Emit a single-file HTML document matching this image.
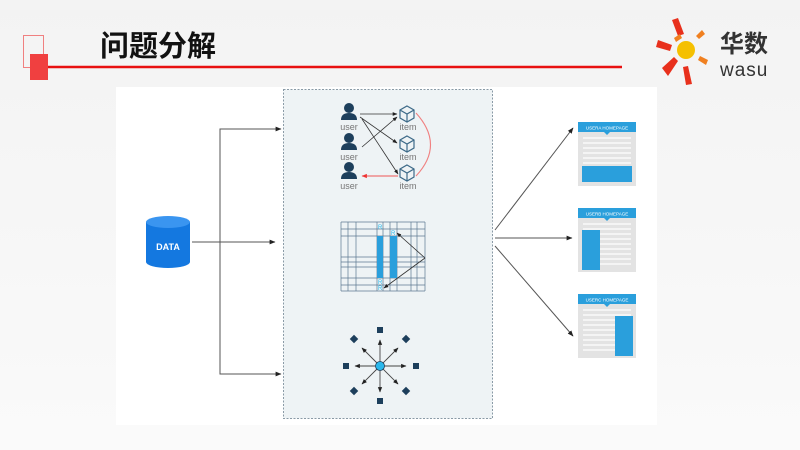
<!DOCTYPE html>
<html><head><meta charset="utf-8"><style>
body{margin:0;width:800px;height:450px;overflow:hidden;background:linear-gradient(#f3f3f3,#fafafa);font-family:"Liberation Sans","Noto Sans CJK SC",sans-serif;}
</style></head><body>
<svg width="800" height="450" viewBox="0 0 800 450" xmlns="http://www.w3.org/2000/svg" style="position:absolute;left:0;top:0">
<defs>
<marker id="a" viewBox="0 0 10 10" refX="9" refY="5" markerWidth="6" markerHeight="6" orient="auto"><path d="M0,1 L10,5 L0,9z" fill="#222"/></marker>
<marker id="r" viewBox="0 0 10 10" refX="9" refY="5" markerWidth="6" markerHeight="6" orient="auto"><path d="M0,1 L10,5 L0,9z" fill="#e33"/></marker>
<g id="u"><circle cx="0" cy="-6" r="5" fill="#1d3f5c"/><path d="M-8,6 Q-8,-1 0,-1 Q8,-1 8,6z" fill="#1d3f5c"/></g>
<g id="i" fill="none" stroke="#3d6a88" stroke-width="1.2"><path d="M0,-8 L7,-4 L7,4 L0,8 L-7,4 L-7,-4z M-7,-4 L0,0 L7,-4 M0,0 L0,8"/></g>
<g id="pg"><rect x="0" y="0" width="58" height="64" fill="#e3e3e3"/><rect x="0" y="0" width="58" height="10" fill="#2a9fdc"/><path d="M26,10 L29,13 L32,10z" fill="#2a9fdc"/>
<g stroke="#fff" stroke-width="1.2"><line x1="5" y1="16" x2="53" y2="16"/><line x1="5" y1="21" x2="53" y2="21"/><line x1="5" y1="26" x2="53" y2="26"/><line x1="5" y1="31" x2="53" y2="31"/><line x1="5" y1="36" x2="53" y2="36"/><line x1="5" y1="41" x2="53" y2="41"/><line x1="5" y1="46" x2="53" y2="46"/><line x1="5" y1="51" x2="53" y2="51"/><line x1="5" y1="56" x2="53" y2="56"/></g></g>
</defs>
<rect x="23.5" y="35.5" width="20" height="32" fill="none" stroke="#f08080" stroke-width="1"/>
<rect x="30" y="54" width="18" height="26" fill="#f04040"/>
<line x1="48" y1="67" x2="622" y2="67" stroke="#e81010" stroke-width="2.5"/>
<text x="100" y="56" font-size="29" font-weight="bold" fill="#111" font-family="Liberation Sans,Noto Sans CJK SC,sans-serif">问题分解</text>
<g transform="translate(686,50)">
<circle r="9" fill="#f5c000"/>
<g fill="#e8301c"><path d="M-28,-10 L-14,-5 L-16,1 L-30,-3z"/><path d="M-24,18 L-12,7 L-8,11 L-18,26z"/><path d="M-8,-32 L-2,-16 L-8,-14 L-14,-30z"/><path d="M2,16 L6,34 L0,35 L-3,17z"/></g>
<g fill="#f08020"><path d="M10,-14 L16,-20 L19,-16 L13,-11z"/><path d="M14,6 L22,10 L20,15 L12,10z"/><path d="M-12,-12 L-6,-16 L-4,-12 L-10,-8z"/></g>
</g>
<text x="720" y="52" font-size="24" font-weight="bold" fill="#333" font-family="Liberation Sans,Noto Sans CJK SC,sans-serif">华数</text>
<text x="720" y="76" font-size="19" fill="#333" letter-spacing="1">wasu</text>
<rect x="116" y="87" width="541" height="338" fill="#fff"/>
<rect x="283.5" y="89.5" width="209" height="329" fill="#eef3f5" stroke="#8a9aa6" stroke-dasharray="2,1.5"/>
<path d="M146,222 L146,262 A22,6 0 0 0 190,262 L190,222z" fill="#1478e0"/>
<ellipse cx="168" cy="222" rx="22" ry="6" fill="#3a95f0"/>
<text x="168" y="250" font-size="9" font-weight="bold" fill="#fff" text-anchor="middle">DATA</text>
<g stroke="#555" stroke-width="1" fill="none">
<line x1="192" y1="242" x2="275" y2="242" marker-end="url(#a)"/>
<polyline points="280,129 220,129 220,374 280,374"/>
<line x1="220" y1="129" x2="281" y2="129" marker-end="url(#a)"/>
<line x1="220" y1="374" x2="281" y2="374" marker-end="url(#a)"/>
<line x1="495" y1="230" x2="573" y2="128" marker-end="url(#a)"/>
<line x1="495" y1="238" x2="572" y2="238" marker-end="url(#a)"/>
<line x1="495" y1="246" x2="573" y2="336" marker-end="url(#a)"/>
</g>
<use href="#u" x="349" y="114"/><use href="#u" x="349" y="144"/><use href="#u" x="349" y="173"/>
<g font-size="9" fill="#777" text-anchor="middle"><text x="349" y="130">user</text><text x="349" y="160">user</text><text x="349" y="189">user</text>
<text x="408" y="130">item</text><text x="408" y="160">item</text><text x="408" y="189">item</text></g>
<use href="#i" x="407" y="114"/><use href="#i" x="407" y="144"/><use href="#i" x="407" y="173"/>
<g stroke="#333" stroke-width="0.8" fill="none">
<line x1="360" y1="114" x2="397" y2="114" marker-end="url(#a)"/>
<line x1="360" y1="117" x2="397" y2="143" marker-end="url(#a)"/>
<line x1="362" y1="119" x2="398" y2="174" marker-end="url(#a)"/>
<line x1="362" y1="147" x2="397" y2="117" marker-end="url(#a)"/>
</g>
<line x1="398" y1="176" x2="362" y2="176" stroke="#e55" stroke-width="0.9" marker-end="url(#r)"/>
<path d="M416,113 Q445,145 416,176" stroke="#f08080" fill="none" stroke-width="1.1"/>
<g stroke="#5c7890" stroke-width="0.7">
<line x1="341" y1="222" x2="425" y2="222"/><line x1="341" y1="229" x2="425" y2="229"/><line x1="341" y1="236" x2="425" y2="236"/><line x1="341" y1="257" x2="425" y2="257"/><line x1="341" y1="262" x2="425" y2="262"/><line x1="341" y1="267" x2="425" y2="267"/><line x1="341" y1="278" x2="425" y2="278"/><line x1="341" y1="285" x2="425" y2="285"/><line x1="341" y1="291" x2="425" y2="291"/>
<line x1="341" y1="222" x2="341" y2="291"/><line x1="348" y1="222" x2="348" y2="291"/><line x1="356" y1="222" x2="356" y2="291"/><line x1="377" y1="222" x2="377" y2="291"/><line x1="383" y1="222" x2="383" y2="291"/><line x1="390" y1="222" x2="390" y2="291"/><line x1="397" y1="222" x2="397" y2="291"/><line x1="411" y1="222" x2="411" y2="291"/><line x1="417" y1="222" x2="417" y2="291"/><line x1="425" y1="222" x2="425" y2="291"/>
</g>
<rect x="377" y="236" width="6" height="42" fill="#2a9fdc"/><rect x="390" y="236" width="7" height="42" fill="#2a9fdc"/>
<g font-size="6" fill="#2ab8ec"><text x="378" y="229">R</text><text x="391" y="235">R</text><text x="378" y="284">R</text><text x="378" y="290">R</text></g>
<g stroke="#333" stroke-width="0.8" fill="none"><line x1="425" y1="258" x2="397" y2="233" marker-end="url(#a)"/><line x1="425" y1="258" x2="384" y2="288" marker-end="url(#a)"/></g>
<g stroke="#444" stroke-width="0.9">
<line x1="380" y1="366" x2="380" y2="340" marker-end="url(#a)"/><line x1="380" y1="366" x2="380" y2="392" marker-end="url(#a)"/>
<line x1="380" y1="366" x2="355" y2="366" marker-end="url(#a)"/><line x1="380" y1="366" x2="406" y2="366" marker-end="url(#a)"/>
<line x1="380" y1="366" x2="362" y2="348" marker-end="url(#a)"/><line x1="380" y1="366" x2="398" y2="348" marker-end="url(#a)"/>
<line x1="380" y1="366" x2="362" y2="384" marker-end="url(#a)"/><line x1="380" y1="366" x2="398" y2="384" marker-end="url(#a)"/>
</g>
<g fill="#1d3f5c"><rect x="377" y="327" width="6" height="6"/><rect x="377" y="398" width="6" height="6"/><rect x="343" y="363" width="6" height="6"/><rect x="413" y="363" width="6" height="6"/>
<rect x="351" y="336" width="6" height="6" transform="rotate(45 354 339)"/><rect x="403" y="336" width="6" height="6" transform="rotate(45 406 339)"/><rect x="351" y="388" width="6" height="6" transform="rotate(45 354 391)"/><rect x="403" y="388" width="6" height="6" transform="rotate(45 406 391)"/></g>
<circle cx="380" cy="366" r="4.5" fill="#2ab8ec" stroke="#1d3f5c" stroke-width="0.8"/>
<g transform="translate(578,122)"><use href="#pg"/><rect x="4" y="44" width="50" height="16" fill="#2a9fdc"/><text x="29" y="7.5" font-size="4.5" fill="#fff" text-anchor="middle">USERA HOMEPAGE</text></g>
<g transform="translate(578,208)"><use href="#pg"/><rect x="4" y="22" width="18" height="40" fill="#2a9fdc"/><text x="29" y="7.5" font-size="4.5" fill="#fff" text-anchor="middle">USERB HOMEPAGE</text></g>
<g transform="translate(578,294)"><use href="#pg"/><rect x="37" y="22" width="18" height="40" fill="#2a9fdc"/><text x="29" y="7.5" font-size="4.5" fill="#fff" text-anchor="middle">USERC HOMEPAGE</text></g>
</svg>
</body></html>
